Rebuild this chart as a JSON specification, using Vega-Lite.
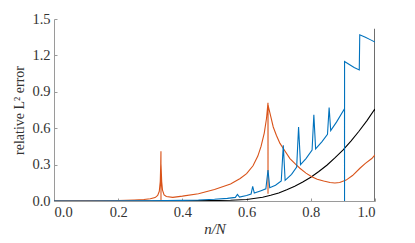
{
  "$schema": "https://vega.github.io/schema/vega-lite/v6.json",
  "width": 321,
  "height": 182,
  "autosize": {"type": "none"},
  "padding": {"left": 54, "top": 19, "right": 40, "bottom": 42},
  "background": "white",
  "config": {"view": {"stroke": null}},
  "datasets": {
    "blue": [
      {"x":0.0,"y":0.0},{"x":0.1,"y":0.0005},{"x":0.2,"y":0.001},{"x":0.3,"y":0.002},{"x":0.35,"y":0.003},{"x":0.4,"y":0.005},{"x":0.45,"y":0.008},{"x":0.5,"y":0.014},{"x":0.54,"y":0.022},{"x":0.565,"y":0.03},{"x":0.5714,"y":0.055},{"x":0.578,"y":0.032},{"x":0.6,"y":0.045},{"x":0.614,"y":0.058},{"x":0.619,"y":0.12},{"x":0.624,"y":0.065},{"x":0.645,"y":0.085},{"x":0.66,"y":0.1},{"x":0.6667,"y":0.255},{"x":0.672,"y":0.11},{"x":0.69,"y":0.13},{"x":0.708,"y":0.165},{"x":0.7143,"y":0.46},{"x":0.72,"y":0.17},{"x":0.74,"y":0.22},{"x":0.756,"y":0.28},{"x":0.7619,"y":0.61},{"x":0.768,"y":0.3},{"x":0.785,"y":0.35},{"x":0.804,"y":0.42},{"x":0.8095,"y":0.71},{"x":0.815,"y":0.43},{"x":0.835,"y":0.49},{"x":0.852,"y":0.55},{"x":0.8571,"y":0.77},{"x":0.862,"y":0.58},{"x":0.88,"y":0.65},{"x":0.905,"y":0.76},{"x":0.9051,"y":0.0},{"x":0.9052,"y":1.15},{"x":0.92,"y":1.125},{"x":0.935,"y":1.1},{"x":0.951,"y":1.08},{"x":0.9525,"y":1.37},{"x":0.97,"y":1.35},{"x":0.985,"y":1.33},{"x":1.0,"y":1.31}
    ],
    "orange": [
      {"x":0.0,"y":0.0},{"x":0.1,"y":0.001},{"x":0.2,"y":0.004},{"x":0.25,"y":0.008},{"x":0.28,"y":0.012},{"x":0.3,"y":0.018},{"x":0.315,"y":0.028},{"x":0.323,"y":0.045},{"x":0.328,"y":0.08},{"x":0.331,"y":0.16},{"x":0.3325,"y":0.3},{"x":0.3332,"y":0.41},{"x":0.3333,"y":0.005},{"x":0.3334,"y":0.3},{"x":0.3355,"y":0.16},{"x":0.338,"y":0.09},{"x":0.343,"y":0.05},{"x":0.35,"y":0.037},{"x":0.37,"y":0.03},{"x":0.4,"y":0.04},{"x":0.45,"y":0.06},{"x":0.5,"y":0.095},{"x":0.55,"y":0.14},{"x":0.58,"y":0.185},{"x":0.6,"y":0.225},{"x":0.62,"y":0.29},{"x":0.635,"y":0.37},{"x":0.645,"y":0.45},{"x":0.655,"y":0.56},{"x":0.662,"y":0.68},{"x":0.6666,"y":0.81},{"x":0.6667,"y":0.06},{"x":0.6668,"y":0.79},{"x":0.675,"y":0.7},{"x":0.683,"y":0.61},{"x":0.693,"y":0.54},{"x":0.704,"y":0.475},{"x":0.72,"y":0.41},{"x":0.735,"y":0.35},{"x":0.75,"y":0.31},{"x":0.766,"y":0.27},{"x":0.785,"y":0.23},{"x":0.803,"y":0.2},{"x":0.82,"y":0.18},{"x":0.84,"y":0.165},{"x":0.86,"y":0.152},{"x":0.875,"y":0.148},{"x":0.89,"y":0.152},{"x":0.91,"y":0.172},{"x":0.93,"y":0.21},{"x":0.953,"y":0.27},{"x":0.97,"y":0.31},{"x":0.99,"y":0.35},{"x":1.0,"y":0.38}
    ],
    "black": [
      {"x":0.0,"y":0.0},{"x":0.3,"y":0.0005},{"x":0.4,"y":0.002},{"x":0.5,"y":0.004},{"x":0.55,"y":0.006},{"x":0.6,"y":0.012},{"x":0.65,"y":0.031},{"x":0.675,"y":0.047},{"x":0.7,"y":0.066},{"x":0.725,"y":0.092},{"x":0.75,"y":0.121},{"x":0.775,"y":0.156},{"x":0.8,"y":0.196},{"x":0.825,"y":0.243},{"x":0.85,"y":0.295},{"x":0.875,"y":0.355},{"x":0.9,"y":0.42},{"x":0.925,"y":0.494},{"x":0.95,"y":0.575},{"x":0.975,"y":0.663},{"x":0.9999,"y":0.76},{"x":0.99995,"y":1.42},{"x":1.0,"y":0.0}
    ]
  },
  "encoding": {
    "x": {
      "field": "x", "type": "quantitative",
      "scale": {"domain": [0, 1], "nice": false, "zero": false},
      "axis": {
        "title": "n/N", "values": [0, 0.2, 0.4, 0.6, 0.8, 1.0], "format": ".1f",
        "grid": false, "domainColor": "#9a9a9a", "tickColor": "#9a9a9a", "tickSize": -3,
        "labelPadding": 7, "labelFont": "Liberation Serif", "labelFontSize": 14.5, "labelColor": "#333333",
        "titleFont": "Liberation Serif", "titleFontSize": 15, "titleFontStyle": "italic", "titleFontWeight": "normal", "titleColor": "#333333", "titlePadding": 3
      }
    },
    "y": {
      "field": "y", "type": "quantitative",
      "scale": {"domain": [0, 1.5], "nice": false},
      "axis": {
        "title": "relative L² error", "values": [0, 0.3, 0.6, 0.9, 1.2, 1.5], "format": ".1f",
        "grid": false, "domainColor": "#9a9a9a", "tickColor": "#9a9a9a", "tickSize": -3,
        "labelPadding": 7, "labelFont": "Liberation Serif", "labelFontSize": 14.5, "labelColor": "#333333",
        "titleFont": "Liberation Serif", "titleFontSize": 14, "titleFontWeight": "normal", "titleColor": "#333333", "titlePadding": 5
      }
    }
  },
  "layer": [
    {"data": {"name": "black"}, "mark": {"type": "line", "color": "#000000", "strokeWidth": 1.1, "clip": true}, "encoding": {"order": {"field": "x", "type": "quantitative"}}},
    {"data": {"name": "orange"}, "mark": {"type": "line", "color": "#D95319", "strokeWidth": 1.1, "clip": true}, "encoding": {"order": {"field": "x", "type": "quantitative"}}},
    {"data": {"name": "blue"}, "mark": {"type": "line", "color": "#0072BD", "strokeWidth": 1.1, "clip": true}, "encoding": {"order": {"field": "x", "type": "quantitative"}}}
  ]
}
